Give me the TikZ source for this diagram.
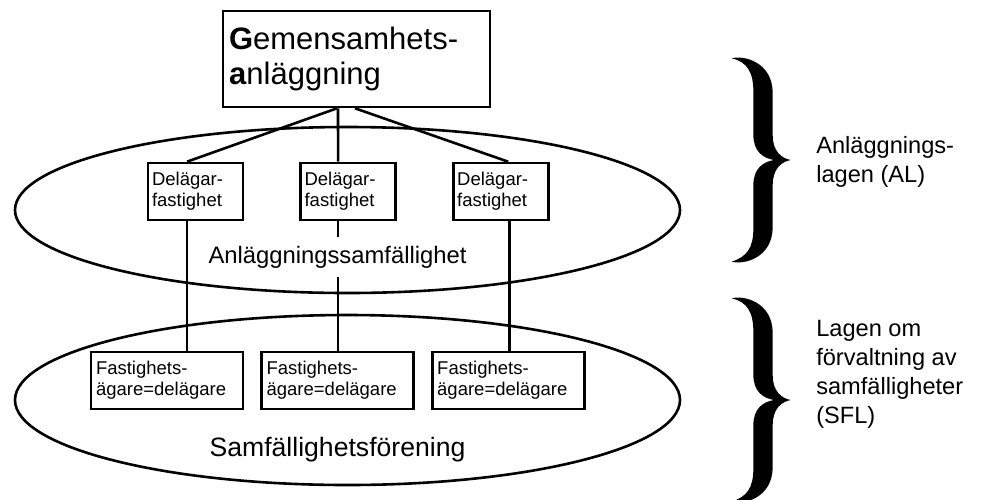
\documentclass[tikz,border=0pt]{standalone}
\usepackage{fontspec}
\setmainfont{Liberation Sans}
\usetikzlibrary{positioning, shapes.geometric}

\begin{document}
\begin{tikzpicture}[
		x=0.5pt, y=-0.5pt,
		node distance=27.5pt and 27.5pt,
		line width=1.3pt, black,
		region/.style={draw, ellipse, minimum width=332.5pt},
		mainbox/.style={draw, rectangle, align=left, text width=127.5pt, minimum height=48pt, inner xsep=3pt, font=\fontsize{15.5}{17.5}\selectfont},
		delbox/.style={draw, rectangle, align=left, text width=43.5pt, minimum height=28.5pt, inner xsep=2pt, font=\fontsize{9.25}{10.5}\selectfont},
		agarbox/.style={draw, rectangle, align=left, text width=71pt, minimum height=28.5pt, inner xsep=2.5pt, font=\fontsize{9.25}{10.5}\selectfont},
		regname/.style={anchor=base, fill=white, inner sep=4.4pt, font=\fontsize{11.9}{14}\selectfont},
		lawname/.style={anchor=north west, align=left, inner sep=0pt, font=\fontsize{11.8}{14.5}\selectfont},
		lawbrace/.pic={
			\fill[scale=1/3] (-177,-305) .. controls (-142,-315) and (-57,-295) .. (-54,-205)
				-- (-54,-75) .. controls (-54,-25) and (-27,-5) .. (0,0)
				.. controls (-27,5) and (-54,25) .. (-54,75)
				-- (-54,205) .. controls (-57,295) and (-142,315) .. (-177,305)
				.. controls (-132,290) and (-112,265) .. (-112,205)
				-- (-112,75) .. controls (-112,25) and (-82,5) .. (-50,0)
				.. controls (-82,-5) and (-112,-25) .. (-112,-75)
				-- (-112,-205) .. controls (-112,-265) and (-132,-295) .. (-177,-305) -- cycle;
		}
		]
		\useasboundingbox (0,0) rectangle (988,499);
		% the two legal levels
		\node[region, minimum height=83pt] at (347.5,210) (alreg) {};
		\node[region, minimum height=85pt] at (347.5,400) (sflreg) {};
		
		% facility and property boxes
		\node[mainbox] at (356.5,59) (gsa) {\textbf{G}emensamhets-\\\textbf{a}nläggning};
		\node[delbox] at (195.5,191.5) (d1) {Delägar-\\fastighet};
		\node[delbox, right = of d1] (d2) {Delägar-\\fastighet};
		\node[delbox, right = of d2] (d3) {Delägar-\\fastighet};
		\node[agarbox] at (167,380.5) (f1) {Fastighets-\\ägare=delägare};
		\node[agarbox, right = 8pt of f1] (f2) {Fastighets-\\ägare=delägare};
		\node[agarbox, right = 8pt of f2] (f3) {Fastighets-\\ägare=delägare};
		
		% links
		\draw ([xshift=-9.75pt]gsa.south) -- ([xshift=-4.25pt]d1.north);
		\draw ([xshift=-9.25pt]gsa.south) -- ([xshift=-5pt]d2.north);
		\draw ([xshift=-0.75pt]gsa.south) -- ([xshift=3.75pt]d3.north);
		\draw ([xshift=-4.25pt]d1.south) -- ([xshift=-4.25pt]d1.south |- f1.north);
		\draw ([xshift=-5pt]d2.south) -- ([xshift=-5pt]d2.south |- f2.north);
		\draw ([xshift=4.25pt]d3.south) -- ([xshift=4.25pt]d3.south |- f3.north);
		
		\node[regname] at (337.5,263) (alname) {Anläggningssamfällighet};
		\node[regname, font=\fontsize{13.3}{16}\selectfont] at (337.5,456.5) (sflname) {Samfällighetsförening};
		
		% laws
		\pic at (790.7,160) {lawbrace};
		\pic at (790.7,400) {lawbrace};
		\node[lawname] at (815,135) (allaw) {Anläggnings-\\lagen (AL)};
		\node[lawname] at (815,319) (sfllaw) {Lagen om\\förvaltning av\\samfälligheter\\(SFL)};
	\end{tikzpicture}
\end{document}
